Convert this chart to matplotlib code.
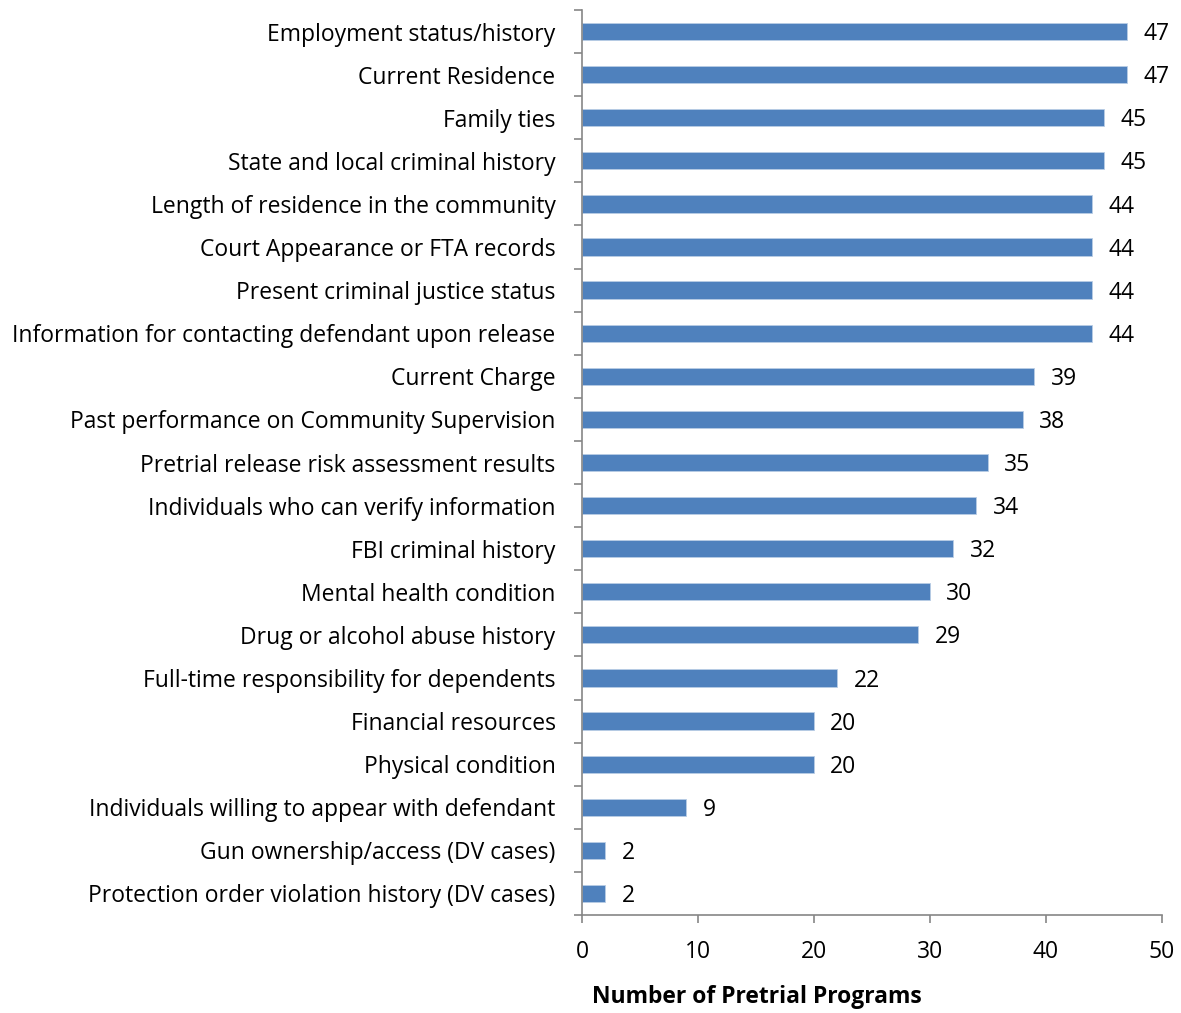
import matplotlib
matplotlib.use("Agg")
import matplotlib.pyplot as plt

categories = [
    "Employment status/history",
    "Current Residence",
    "Family ties",
    "State and local criminal history",
    "Length of residence in the community",
    "Court Appearance or FTA records",
    "Present criminal justice status",
    "Information for contacting defendant upon release",
    "Current Charge",
    "Past performance on Community Supervision",
    "Pretrial release risk assessment results",
    "Individuals who can verify information",
    "FBI criminal history",
    "Mental health condition",
    "Drug or alcohol abuse history",
    "Full-time responsibility for dependents",
    "Financial resources",
    "Physical condition",
    "Individuals willing to appear with defendant",
    "Gun ownership/access (DV cases)",
    "Protection order violation history (DV cases)",
]
values = [47, 47, 45, 45, 44, 44, 44, 44, 39, 38, 35, 34, 32, 30, 29, 22, 20, 20, 9, 2, 2]
xticks = [0, 10, 20, 30, 40, 50]
xlabel = "Number of Pretrial Programs"

plt.rcParams['font.family'] = ['Open Sans', 'DejaVu Sans']
FS = 16.5

fig = plt.figure(figsize=(11.81, 10.13), dpi=100)
ax = fig.add_axes([582/1181, 1-915/1013, 580/1181, 905/1013])

n = len(categories)
ypos = list(range(n))[::-1]
ax.barh(ypos, values, height=0.4, color="#4F81BD", edgecolor="#B9CDE5", linewidth=0.6)
for y, v in zip(ypos, values):
    ax.text(v + 1.4, y - 0.06, str(v), va="center", ha="left", fontsize=FS, color="black")

ax.set_xlim(0, 50)
ax.set_ylim(-0.5, n - 0.5)
ax.set_xticks(xticks)
ax.set_xticklabels([str(t) for t in xticks], fontsize=FS)
ax.set_yticks(ypos)
ax.set_yticklabels(categories, fontsize=FS)
ax.tick_params(axis='y', length=0, pad=19)
ax.set_yticks([i - 0.5 for i in range(n + 1)], minor=True)
ax.tick_params(axis='y', which='minor', length=6, color="#868686", width=1.2)
ax.tick_params(axis='x', length=6, color="#868686", width=1.2, pad=12)
for s in ["top", "right"]:
    ax.spines[s].set_visible(False)
for s in ["left", "bottom"]:
    ax.spines[s].set_color("#868686")
    ax.spines[s].set_linewidth(1.2)
fig.text(757/1181, 1-997/1013, xlabel, fontsize=FS, fontweight="bold", ha="center", va="center")

fig.savefig("out.png", dpi=100)
